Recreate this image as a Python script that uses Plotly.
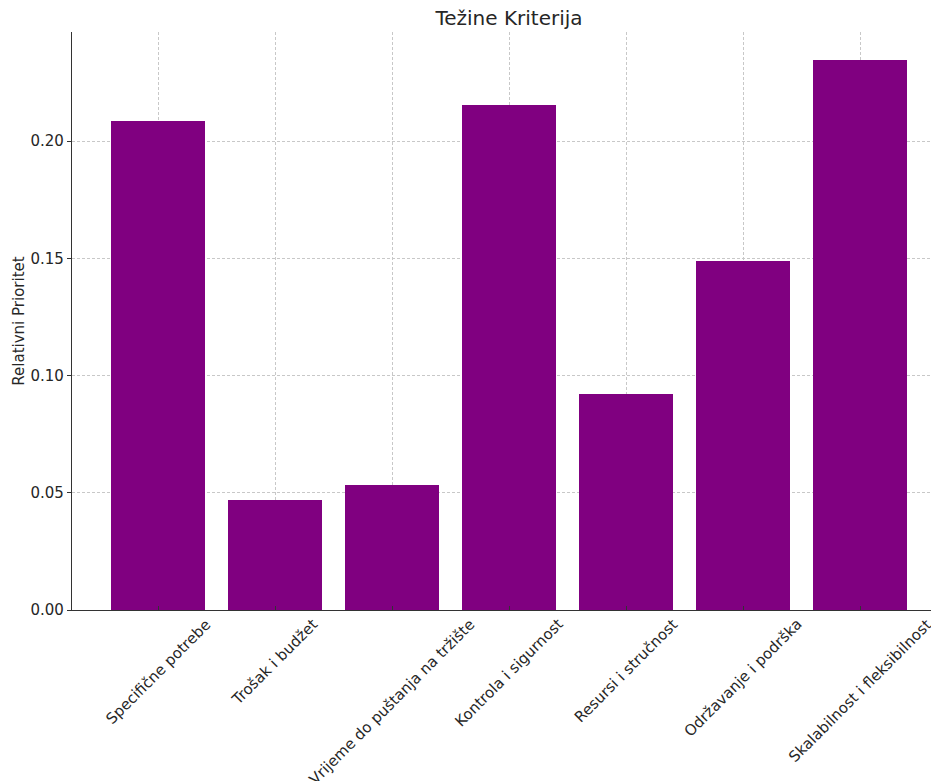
import plotly.graph_objects as go

categories = [
    "Specifične potrebe",
    "Trošak i budžet",
    "Vrijeme do puštanja na tržište",
    "Kontrola i sigurnost",
    "Resursi i stručnost",
    "Održavanje i podrška",
    "Skalabilnost i fleksibilnost",
]
values = [0.2085, 0.0469, 0.0533, 0.2154, 0.0921, 0.1488, 0.2345]
y_ticks = [0.00, 0.05, 0.10, 0.15, 0.20]
y_tick_labels = ["0.00", "0.05", "0.10", "0.15", "0.20"]

FONT = "DejaVu Sans"
TXT = "#262626"

# page body has an 8px margin, so the figure is sized to fit the window
W, H = 931, 773

fig = go.Figure()
fig.add_trace(go.Bar(
    x=list(range(len(categories))),
    y=values,
    width=0.8,
    marker=dict(color="#800080", line=dict(width=0)),
))

annotations = []
for i, c in enumerate(categories):
    annotations.append(dict(
        x=i, y=0, xref="x", yref="y",
        text=c, showarrow=False, textangle=-45,
        xanchor="center", yanchor="top", yshift=-3,
        font=dict(family=FONT, size=15, color=TXT),
    ))

fig.update_layout(
    width=W, height=H,
    margin=dict(l=64, r=0, t=24, b=171),
    paper_bgcolor="white", plot_bgcolor="white",
    showlegend=False,
    font=dict(family=FONT, size=15, color=TXT),
    title=dict(text="Težine Kriterija", x=0.504, xref="paper", xanchor="center",
               y=1 - 10 / H, yanchor="middle",
               font=dict(family=FONT, size=20, color=TXT)),
    annotations=annotations,
    bargap=0,
)
fig.update_xaxes(
    range=[-0.735, 6.675],
    tickvals=list(range(len(categories))),
    showticklabels=False,
    showgrid=True, gridcolor="#c8c8c8", griddash="3px,2px", gridwidth=0.7,
    showline=True, linecolor="#333333", linewidth=1.2,
    ticks="inside", ticklen=4, tickcolor="#333333",
    layer="above traces", zeroline=False, automargin=False,
)
fig.update_yaxes(
    range=[0, 0.2465],
    tickvals=y_ticks, ticktext=y_tick_labels,
    tickfont=dict(family=FONT, size=15, color=TXT),
    showgrid=True, gridcolor="#c8c8c8", griddash="3px,2px", gridwidth=0.7,
    showline=True, linecolor="#333333", linewidth=1.2,
    ticks="outside", ticklen=4, tickcolor="#333333",
    title=dict(text="Relativni Prioritet", font=dict(family=FONT, size=15, color=TXT), standoff=2),
    layer="above traces", zeroline=False, automargin=False,
)

fig.write_html("out.html")
